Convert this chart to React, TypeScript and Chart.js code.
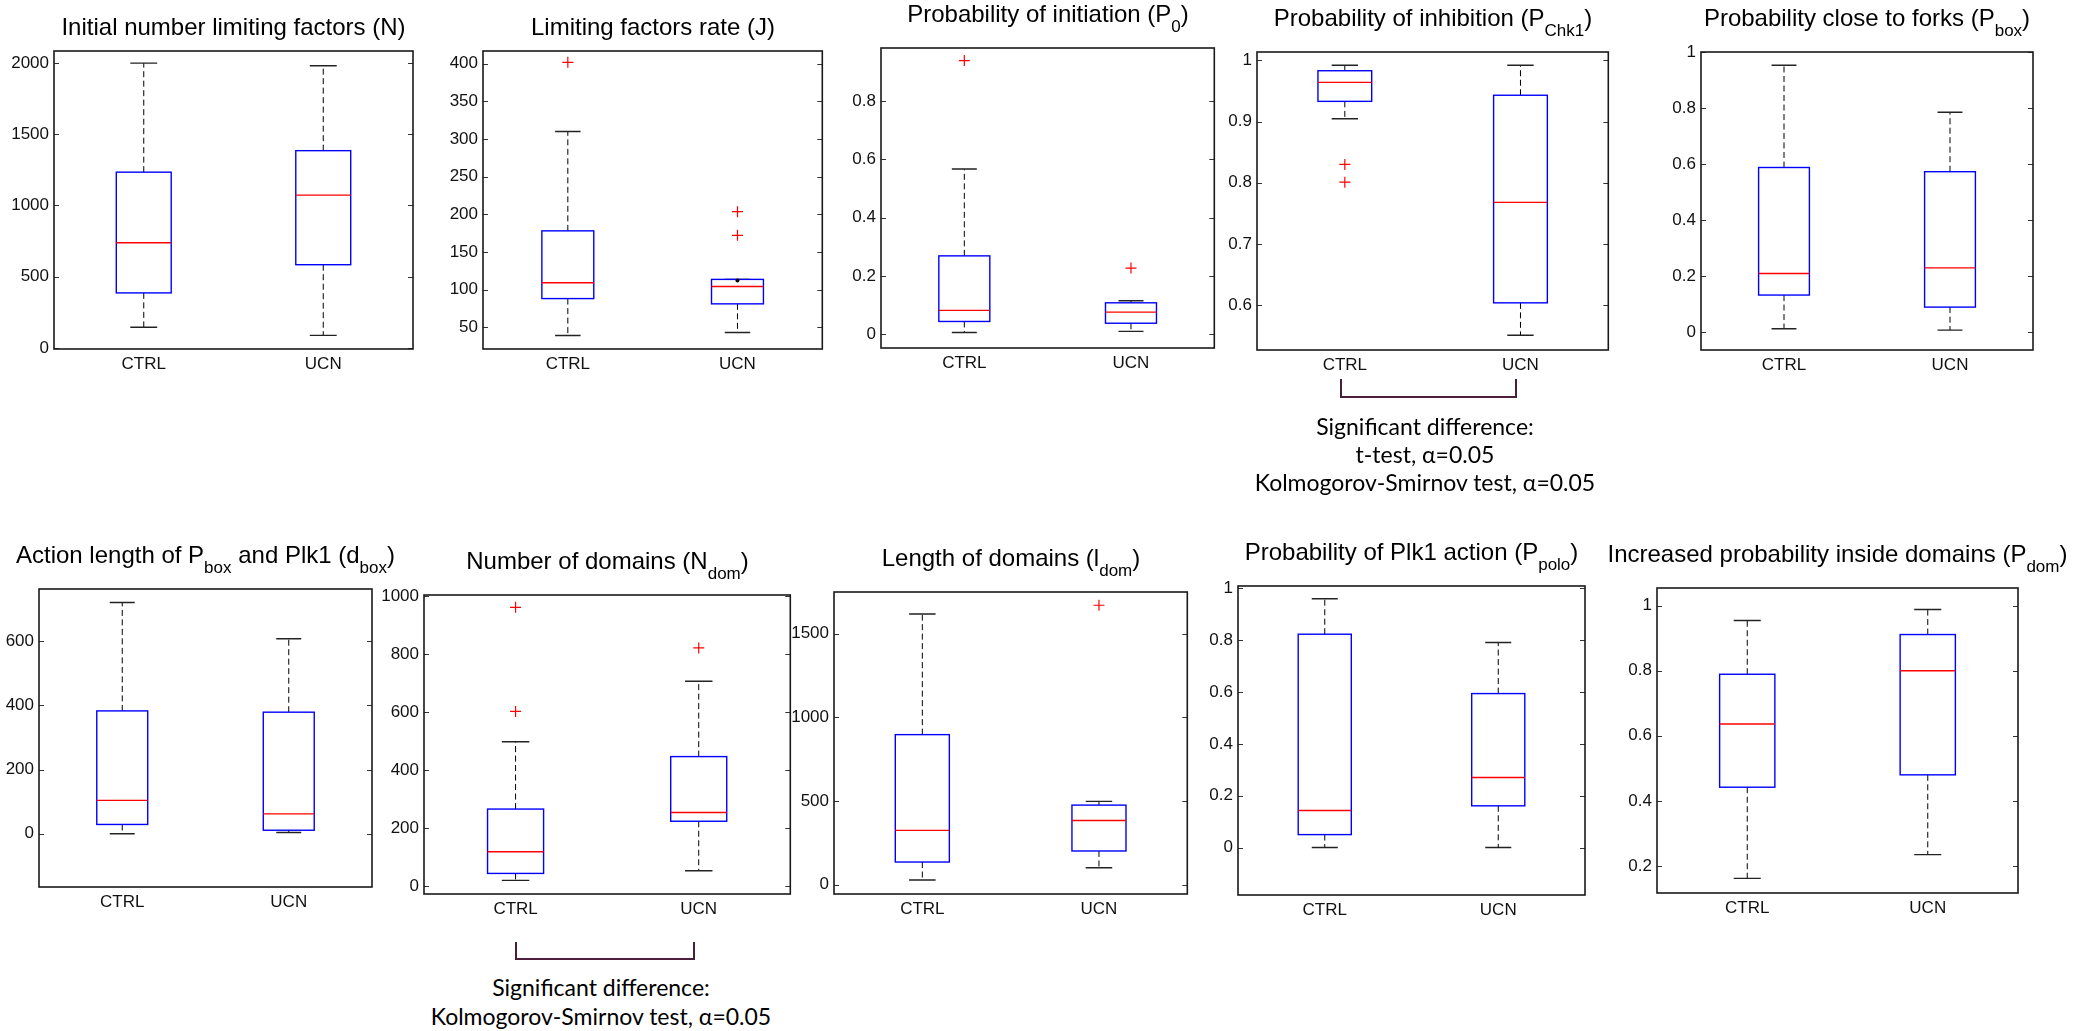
import React, { useEffect, useRef } from 'react';
import { Chart, registerables } from 'chart.js';

Chart.register(...registerables);

// ---------------- data ----------------
const CATEGORIES = ['CTRL', 'UCN'];

// five-number summaries: [lower whisker, Q1, median, Q3, upper whisker]
const N_CTRL = [145, 386, 738, 1234, 2000];
const N_UCN = [88, 584, 1073, 1385, 1981];
const N_TICKS = [0, 500, 1000, 1500, 2000];

const J_CTRL = [39, 88, 109, 178, 310];
const J_UCN = [43, 81, 104, 113.5, 113.5];
const J_CTRL_OUT = [402];
const J_UCN_OUT = [203.5, 172];
const J_UCN_DOT = [112];
const J_TICKS = [50, 100, 150, 200, 250, 300, 350, 400];

const P0_CTRL = [0.006, 0.044, 0.082, 0.269, 0.567];
const P0_UCN = [0.01, 0.038, 0.076, 0.108, 0.115];
const P0_CTRL_OUT = [0.939];
const P0_UCN_OUT = [0.227];
const P0_TICKS = [0, 0.2, 0.4, 0.6, 0.8];

const PCHK1_CTRL = [0.9045, 0.933, 0.964, 0.983, 0.992];
const PCHK1_UCN = [0.551, 0.604, 0.768, 0.943, 0.992];
const PCHK1_CTRL_OUT = [0.83, 0.801];
const PCHK1_TICKS = [0.6, 0.7, 0.8, 0.9, 1];

const PBOX_CTRL = [0.013, 0.133, 0.21, 0.588, 0.953];
const PBOX_UCN = [0.008, 0.09, 0.23, 0.573, 0.785];
const PBOX_TICKS = [0, 0.2, 0.4, 0.6, 0.8, 1];

const DBOX_CTRL = [0, 29, 104, 383, 721];
const DBOX_UCN = [4, 11, 62, 379, 608];
const DBOX_TICKS = [0, 200, 400, 600];

const NDOM_CTRL = [19, 43, 118, 265, 497];
const NDOM_UCN = [52, 223, 253, 446, 706];
const NDOM_CTRL_OUT = [961, 602];
const NDOM_UCN_OUT = [821];
const NDOM_TICKS = [0, 200, 400, 600, 800, 1000];

const LDOM_CTRL = [28, 135, 324, 896, 1617];
const LDOM_UCN = [101, 201, 383, 475, 497];
const LDOM_UCN_OUT = [1669];
const LDOM_TICKS = [0, 500, 1000, 1500];

const PPOLO_CTRL = [0, 0.05, 0.143, 0.823, 0.96];
const PPOLO_UCN = [0, 0.161, 0.27, 0.594, 0.791];
const PPOLO_TICKS = [0, 0.2, 0.4, 0.6, 0.8, 1];

const PDOM_CTRL = [0.162, 0.442, 0.636, 0.789, 0.954];
const PDOM_UCN = [0.235, 0.48, 0.8, 0.911, 0.988];
const PDOM_TICKS = [0.2, 0.4, 0.6, 0.8, 1];

const SIG_LINES_CHK1 = ['Significant difference:', 't-test, \u03b1=0.05', 'Kolmogorov-Smirnov test, \u03b1=0.05'];
const SIG_LINES_NDOM = ['Significant difference:', 'Kolmogorov-Smirnov test, \u03b1=0.05'];

// ---------------- layout / style ----------------
type Seg = { t: string; sub?: boolean };

interface PanelDef {
  title: Seg[];
  ctrl: number[];
  ucn: number[];
  ctrlOut: number[];
  ucnOut: number[];
  ucnDots?: number[];
  ticks: number[];
  yMin: number;
  yMax: number;
  box: [number, number, number, number]; // L T R B (page px)
}

const PANELS: PanelDef[] = [
  { title: [{ t: 'Initial number limiting factors (N)' }], ctrl: N_CTRL, ucn: N_UCN, ctrlOut: [], ucnOut: [], ticks: N_TICKS, yMin: -8, yMax: 2085, box: [54, 51, 413, 349] },
  { title: [{ t: 'Limiting factors rate (J)' }], ctrl: J_CTRL, ucn: J_UCN, ctrlOut: J_CTRL_OUT, ucnOut: J_UCN_OUT, ucnDots: J_UCN_DOT, ticks: J_TICKS, yMin: 21, yMax: 417, box: [483, 51, 823, 349] },
  { title: [{ t: 'Probability of initiation (P' }, { t: '0', sub: true }, { t: ')' }], ctrl: P0_CTRL, ucn: P0_UCN, ctrlOut: P0_CTRL_OUT, ucnOut: P0_UCN_OUT, ticks: P0_TICKS, yMin: -0.047, yMax: 0.982, box: [881, 48, 1215, 348] },
  { title: [{ t: 'Probability of inhibition (P' }, { t: 'Chk1', sub: true }, { t: ')' }], ctrl: PCHK1_CTRL, ucn: PCHK1_UCN, ctrlOut: PCHK1_CTRL_OUT, ucnOut: [], ticks: PCHK1_TICKS, yMin: 0.527, yMax: 1.0136, box: [1257, 52, 1609, 350] },
  { title: [{ t: 'Probability close to forks (P' }, { t: 'box', sub: true }, { t: ')' }], ctrl: PBOX_CTRL, ucn: PBOX_UCN, ctrlOut: [], ucnOut: [], ticks: PBOX_TICKS, yMin: -0.063, yMax: 1.0, box: [1701, 52, 2033, 350] },
  { title: [{ t: 'Action length of P' }, { t: 'box', sub: true }, { t: ' and Plk1 (d' }, { t: 'box', sub: true }, { t: ')' }], ctrl: DBOX_CTRL, ucn: DBOX_UCN, ctrlOut: [], ucnOut: [], ticks: DBOX_TICKS, yMin: -166, yMax: 763, box: [39, 589, 372, 887] },
  { title: [{ t: 'Number of domains (N' }, { t: 'dom', sub: true }, { t: ')' }], ctrl: NDOM_CTRL, ucn: NDOM_UCN, ctrlOut: NDOM_CTRL_OUT, ucnOut: NDOM_UCN_OUT, ticks: NDOM_TICKS, yMin: -28, yMax: 1003.5, box: [424, 595, 791, 894] },
  { title: [{ t: 'Length of domains (l' }, { t: 'dom', sub: true }, { t: ')' }], ctrl: LDOM_CTRL, ucn: LDOM_UCN, ctrlOut: [], ucnOut: LDOM_UCN_OUT, ticks: LDOM_TICKS, yMin: -56, yMax: 1748, box: [834, 592, 1188, 894] },
  { title: [{ t: 'Probability of Plk1 action (P' }, { t: 'polo', sub: true }, { t: ')' }], ctrl: PPOLO_CTRL, ucn: PPOLO_UCN, ctrlOut: [], ucnOut: [], ticks: PPOLO_TICKS, yMin: -0.183, yMax: 1.009, box: [1238, 586, 1585, 895] },
  { title: [{ t: 'Increased probability inside domains (P' }, { t: 'dom', sub: true }, { t: ')' }], ctrl: PDOM_CTRL, ucn: PDOM_UCN, ctrlOut: [], ucnOut: [], ticks: PDOM_TICKS, yMin: 0.117, yMax: 1.054, box: [1657, 588, 2018, 893] },
];

const SIG_NOTES = [
  { lines: SIG_LINES_CHK1, cx: 1425, firstMid: 426.5, step: 28.3, bracket: [1341, 379, 1516, 397] },
  { lines: SIG_LINES_NDOM, cx: 601, firstMid: 988, step: 29, bracket: [516, 942, 694, 959] },
];

const SANS = "'Liberation Sans', Arial, Helvetica, sans-serif";
const NOTE_FONT = "Lato, 'Open Sans', sans-serif";
const TICK_SIZE = 17;
const YW = 62;
const PT = 16;
const PR = 6;
const XH = 34;
const PB = 2;
const BOX_HALF = 0.153;
const CAP_HALF = 0.075;

Chart.defaults.font.family = SANS;
Chart.defaults.font.size = TICK_SIZE;
Chart.defaults.color = '#111';

function makeBoxPlugin(p: PanelDef) {
  return {
    id: 'matlabBoxes',
    beforeDatasetsDraw(chart: any) {
      const { ctx, scales } = chart;
      const x = scales.x;
      const y = scales.y;
      [p.ctrl, p.ucn].forEach((s, i) => {
        const cx = x.getPixelForValue(i + 1);
        const hw = x.getPixelForValue(i + 1 + BOX_HALF) - cx;
        const cw = x.getPixelForValue(i + 1 + CAP_HALF) - cx;
        const [lo, q1, med, q3, hi] = s.map((v) => y.getPixelForValue(v));
        ctx.save();
        // whiskers
        ctx.strokeStyle = '#000';
        ctx.lineWidth = 1;
        ctx.setLineDash([6, 3.5]);
        ctx.beginPath();
        ctx.moveTo(cx, q3);
        ctx.lineTo(cx, hi);
        ctx.moveTo(cx, q1);
        ctx.lineTo(cx, lo);
        ctx.stroke();
        ctx.setLineDash([]);
        // caps
        ctx.strokeStyle = '#222';
        ctx.lineWidth = 1.4;
        ctx.beginPath();
        ctx.moveTo(cx - cw, hi);
        ctx.lineTo(cx + cw, hi);
        ctx.moveTo(cx - cw, lo);
        ctx.lineTo(cx + cw, lo);
        ctx.stroke();
        // box
        ctx.strokeStyle = '#0000ff';
        ctx.lineWidth = 1.4;
        ctx.strokeRect(cx - hw, q3, 2 * hw, q1 - q3);
        // median
        ctx.strokeStyle = '#ff0000';
        ctx.lineWidth = 1.4;
        ctx.beginPath();
        ctx.moveTo(cx - hw, med);
        ctx.lineTo(cx + hw, med);
        ctx.stroke();
        ctx.restore();
      });
    },
    afterDraw(chart: any) {
      const { ctx, chartArea: a, scales } = chart;
      const y = scales.y;
      ctx.save();
      ctx.strokeStyle = '#333';
      ctx.lineWidth = 1;
      ctx.beginPath();
      y.ticks.forEach((t: any) => {
        const py = Math.round(y.getPixelForValue(t.value)) + 0.5;
        ctx.moveTo(a.left, py);
        ctx.lineTo(a.left + 5, py);
        ctx.moveTo(a.right - 5, py);
        ctx.lineTo(a.right, py);
      });
      ctx.stroke();
      ctx.strokeStyle = '#1a1a1a';
      ctx.lineWidth = 1.6;
      ctx.strokeRect(a.left, a.top, a.right - a.left, a.bottom - a.top);
      ctx.restore();
    },
  };
}

function BoxPanel({ p }: { p: PanelDef }) {
  const ref = useRef<HTMLCanvasElement>(null);
  const [L, T, R, B] = p.box;
  const W = R - L + YW + PR;
  const H = B - T + PT + XH + PB;

  useEffect(() => {
    if (!ref.current) return;
    const outliers = [
      ...p.ctrlOut.map((v) => ({ x: 1, y: v })),
      ...p.ucnOut.map((v) => ({ x: 2, y: v })),
    ];
    const dots = (p.ucnDots || []).map((v) => ({ x: 2, y: v }));
    const chart = new Chart(ref.current, {
      type: 'scatter',
      data: {
        datasets: [
          {
            data: outliers,
            pointStyle: 'cross',
            radius: 5.5,
            borderColor: '#ff0000',
            backgroundColor: '#ff0000',
            borderWidth: 1.2,
          },
          {
            data: dots,
            pointStyle: 'circle',
            radius: 2,
            borderWidth: 0,
            backgroundColor: '#000',
          },
        ],
      } as any,
      options: {
        animation: false,
        responsive: false,
        maintainAspectRatio: false,
        events: [],
        layout: { padding: { left: 0, top: PT, right: PR, bottom: PB } },
        plugins: {
          legend: { display: false },
          tooltip: { enabled: false },
          title: { display: false },
        },
        scales: {
          x: {
            type: 'linear',
            min: 0.5,
            max: 2.5,
            afterBuildTicks: (s: any) => {
              s.ticks = CATEGORIES.map((_, i) => ({ value: i + 1 }));
            },
            afterFit: (s: any) => {
              s.height = XH;
            },
            ticks: {
              callback: (v: any) => CATEGORIES[Math.round(v) - 1],
              font: { family: SANS, size: TICK_SIZE },
              color: '#111',
              padding: 5,
              maxRotation: 0,
              autoSkip: false,
            },
            grid: { display: false, drawTicks: false },
            border: { display: false },
          },
          y: {
            type: 'linear',
            min: p.yMin,
            max: p.yMax,
            afterBuildTicks: (s: any) => {
              s.ticks = p.ticks.map((v) => ({ value: v }));
            },
            afterFit: (s: any) => {
              s.width = YW;
            },
            ticks: {
              callback: (v: any) => String(v),
              font: { family: SANS, size: TICK_SIZE },
              color: '#111',
              padding: 5,
              autoSkip: false,
            },
            grid: { display: false, drawTicks: false },
            border: { display: false },
          },
        },
      } as any,
      plugins: [makeBoxPlugin(p)],
    });
    return () => chart.destroy();
  }, [p]);

  return (
    <canvas
      ref={ref}
      width={W}
      height={H}
      style={{ position: 'absolute', left: L - YW, top: T - PT, width: W, height: H }}
    />
  );
}

function Title({ p }: { p: PanelDef }) {
  const [L, T, R] = p.box;
  const hasSub = p.title.some((s) => s.sub);
  const baseline = T - (hasSub ? 25.5 : 16);
  return (
    <div
      style={{
        position: 'absolute',
        left: (L + R) / 2,
        top: baseline - 23.3,
        transform: 'translateX(-50%)',
        fontFamily: SANS,
        fontSize: 24,
        lineHeight: '30px',
        whiteSpace: 'nowrap',
        color: '#000',
      }}
    >
      {p.title.map((s, i) =>
        s.sub ? (
          <span key={i} style={{ fontSize: 17, position: 'relative', top: 9.5 }}>
            {s.t}
          </span>
        ) : (
          <span key={i}>{s.t}</span>
        )
      )}
    </div>
  );
}

function SigNote({ n }: { n: (typeof SIG_NOTES)[number] }) {
  const [x1, y1, x2, y2] = n.bracket;
  const bw = 2.5;
  return (
    <>
      <div
        style={{
          position: 'absolute',
          left: x1 - bw / 2,
          top: y1,
          width: x2 - x1 + bw,
          height: y2 - y1 + bw / 2,
          boxSizing: 'border-box',
          borderLeft: `${bw}px solid #4b1e3c`,
          borderRight: `${bw}px solid #4b1e3c`,
          borderBottom: `${bw}px solid #4b1e3c`,
        }}
      />
      <div
        style={{
          position: 'absolute',
          left: n.cx,
          top: n.firstMid - 14.8,
          transform: 'translateX(-50%)',
          fontFamily: NOTE_FONT,
          fontSize: 23,
          lineHeight: `${n.step}px`,
          textAlign: 'center',
          whiteSpace: 'nowrap',
          color: '#000',
        }}
      >
        {n.lines.map((l, i) => (
          <div key={i}>{l}</div>
        ))}
      </div>
    </>
  );
}

export default function App() {
  return (
    <div
      style={{
        position: 'absolute',
        left: 0,
        top: 0,
        width: 2074,
        height: 1031,
        overflow: 'hidden',
        background: '#fff',
      }}
    >
      {PANELS.map((p, i) => (
        <BoxPanel key={i} p={p} />
      ))}
      {PANELS.map((p, i) => (
        <Title key={'t' + i} p={p} />
      ))}
      {SIG_NOTES.map((n, i) => (
        <SigNote key={'n' + i} n={n} />
      ))}
    </div>
  );
}
